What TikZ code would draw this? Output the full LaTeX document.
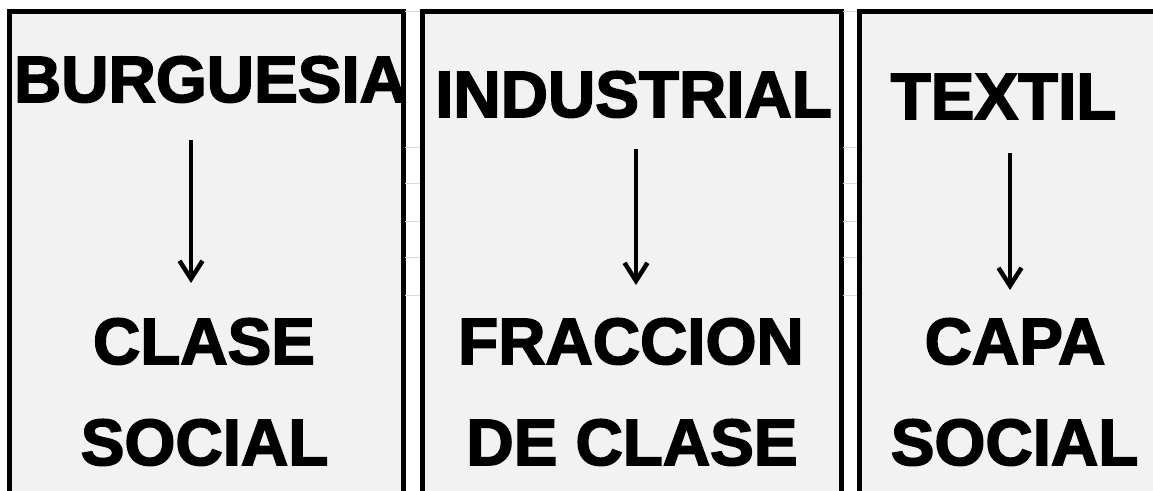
\documentclass[tikz,border=0pt]{standalone}
\usepackage{fontspec}
\setmainfont{Liberation Sans}[BoldFeatures={FakeBold=2.5}]
\usetikzlibrary{arrows.meta}
\definecolor{relleno}{HTML}{F2F2F2}
\definecolor{rejilla}{HTML}{D9D9D9}
\tikzset{flecha/.style={-{Straight Barb[length=18pt,width=23pt,line width=4.5pt]},
    line width=3.2pt
  }
}

\begin{document}
\begin{tikzpicture}[x=1pt,y=-1pt]
		\tikzstyle{Caja}=[draw=black,fill=relleno,line width=5pt]
		\tikzstyle{Palabra}=[anchor=base,inner sep=0pt,font=\bfseries\fontsize{65.5}{70}\selectfont]

		\useasboundingbox[fill=white] (0,0) rectangle (1153,490);

		\foreach \izq/\der in {9.5/403, 422/841, 859/1170}
		{
			\path[Caja] (\izq,11.5) rectangle (\der,510);
		}
		\foreach \y in {11.5,147,183,221,257,295}
		{
			\draw[rejilla,line width=1pt] (405,\y) -- (420,\y);
			\draw[rejilla,line width=1pt] (843,\y) -- (857,\y);
		}

		\node[Palabra] (burguesia) at (210.5,102) {BURGUESIA};
		\node[Palabra] (clase) at (204,364) {CLASE};
		\node[Palabra] (social1) at (204.5,465) {SOCIAL};

		\node[Palabra] (industrial) at (633.5,117) {INDUSTRIAL};
		\node[Palabra] (fraccion) at (631,364) {FRACCION};
		\node[Palabra] (declase) at (632,465) {DE CLASE};

		\node[Palabra] (textil) at (1003.5,119) {TEXTIL};
		\node[Palabra] (capa) at (1015,364) {CAPA};
		\node[Palabra] (social3) at (1014.5,465) {SOCIAL};

		\coordinate (f1a) at (191,140);
		\coordinate (f1b) at (191,283);
		\coordinate (f2a) at (636,149);
		\coordinate (f2b) at (636,285);
		\coordinate (f3a) at (1010,153);
		\coordinate (f3b) at (1010,290);
		\draw[flecha] (f1a) -- (f1b);
		\draw[flecha] (f2a) -- (f2b);
		\draw[flecha] (f3a) -- (f3b);
\end{tikzpicture}
\end{document}
